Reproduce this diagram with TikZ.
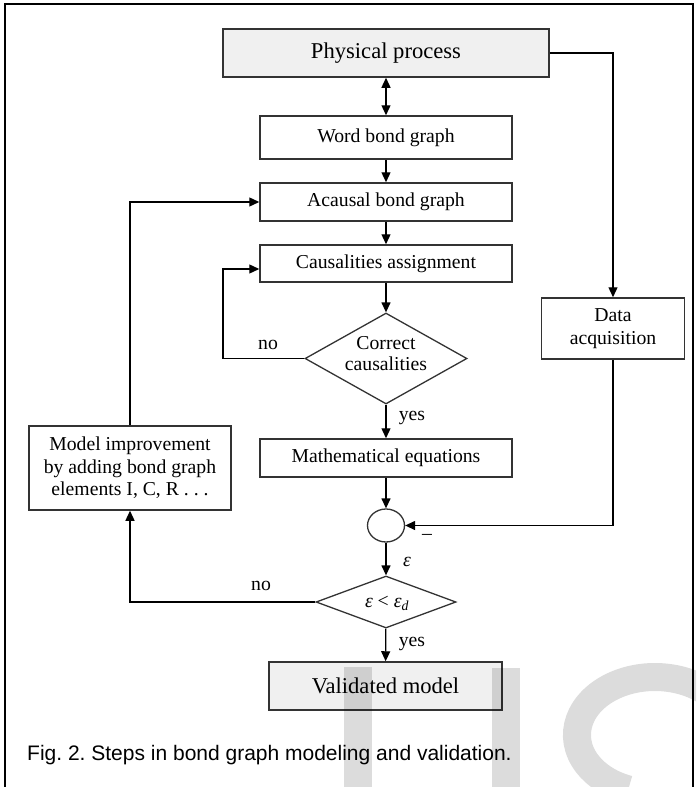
\documentclass[tikz,border=0pt]{standalone}
\usepackage{fontspec}
\setmainfont{Liberation Serif}
\newfontfamily\capfont{Liberation Sans}
\usetikzlibrary{arrows.meta,shapes.geometric}
\definecolor{boxgray}{HTML}{F0F0F0}
\definecolor{wmgray}{HTML}{DCDCDC}
\definecolor{edge}{HTML}{333333}
\frenchspacing
\begin{document}
\begin{tikzpicture}[x=1pt,y=-1pt,
  box/.style={draw=edge,line width=1.5pt,rectangle,inner sep=0pt,align=center,
    font=\fontsize{19.7pt}{22.5pt}\selectfont},
  bigbox/.style={box,fill=boxgray,font=\fontsize{22.6pt}{25pt}\selectfont},
  dia/.style={draw=edge,line width=1.3pt,diamond,inner sep=0pt},
  txt/.style={inner sep=0pt,align=center,font=\fontsize{19.7pt}{21pt}\selectfont},
  arr/.style={line width=1.3pt,-{Triangle[length=10pt,width=9pt]}},
  darr/.style={line width=1.3pt,{Triangle[length=10pt,width=9pt]}-{Triangle[length=10pt,width=9pt]}},
  wm/.style={fill=wmgray,draw=none}]
\useasboundingbox (0,0) rectangle (696,787);
% frame
\draw[line width=2pt] (5,787) -- (5,4) -- (693,4) -- (693,787);
% nodes
\node[bigbox,minimum width=326pt,minimum height=48pt] (phys) at (386,53) {Physical process};
\node[box,minimum width=252pt,minimum height=43pt] (word) at (386,137.5) {Word bond graph};
\node[box,minimum width=252pt,minimum height=38pt] (acaus) at (386,202) {Acausal bond graph};
\node[box,minimum width=252pt,minimum height=37pt] (caus) at (386,263.5) {Causalities assignment};
\node[dia,minimum width=162pt,minimum height=91pt] (d1) at (386,358.5) {};
\node[txt] (d1t) at (386,354) {Correct\\causalities};
\node[box,minimum width=252pt,minimum height=38pt] (math) at (386,458) {Mathematical equations};
\node[draw=edge,line width=1.3pt,ellipse,minimum width=37pt,minimum height=33pt,inner sep=0pt] (circ) at (386,525.5) {};
\node[dia,minimum width=140pt,minimum height=52pt] (d2) at (386,602) {};
\node[txt] (d2t) at (387,603) {\textit{ε} < \textit{ε}\textsubscript{\textit{d}}};
\node[bigbox,minimum width=233pt,minimum height=48pt] (valid) at (385.5,686) {Validated model};
\node[box,minimum width=143pt,minimum height=61pt] (data) at (613,328.5) {Data\\acquisition};
\node[box,minimum width=202pt,minimum height=84pt] (model) at (130,468) {Model improvement\\by adding bond graph\\elements I, C, R . . .};
% labels
\node[txt] (no1) at (268,345) {no};
\node[txt] (yes1) at (412,418) {yes};
\node[txt] (eps) at (407,562) {\textit{ε}};
\node[txt] (no2) at (261,586) {no};
\node[txt] (yes2) at (412,644) {yes};
\node[txt] (minus) at (427,537) {–};
% connectors
\draw[darr] (phys) -- (word);
\draw[arr] (word) -- (acaus);
\draw[arr] (acaus) -- (caus);
\draw[arr] (caus) -- (d1);
\draw[arr] (d1) -- (math);
\draw[arr] (math) -- (circ);
\draw[arr] (circ) -- (d2);
\draw[arr] (d2) -- (valid);
\draw[arr] (phys.east) -| (data.north);
\draw[arr] (data.south) |- (circ.east);
\draw[arr] (model.north) |- (acaus.west);
\coordinate (cl) at (223,269);
\draw[arr] (d1.west) -| (cl) -- (caus.west |- cl);
\draw[arr] (d2.west) -| (model.south);
% caption
\node[anchor=base west,inner sep=0pt,font=\capfont\fontsize{21pt}{24pt}\selectfont] (cap) at (27,760) {Fig. 2. Steps in bond graph modeling and validation.};
% watermark
\begin{scope}[blend mode=multiply]
\clip (0,0) rectangle (696,787);
\fill[wm] (344,667) rectangle (372,790);
\fill[wm] (492,668) rectangle (520,790);
\draw[draw=wmgray,line width=28pt] (722.5,706) arc[start angle=-30,end angle=-250,x radius=78,y radius=58];
\end{scope}
\end{tikzpicture}
\end{document}
